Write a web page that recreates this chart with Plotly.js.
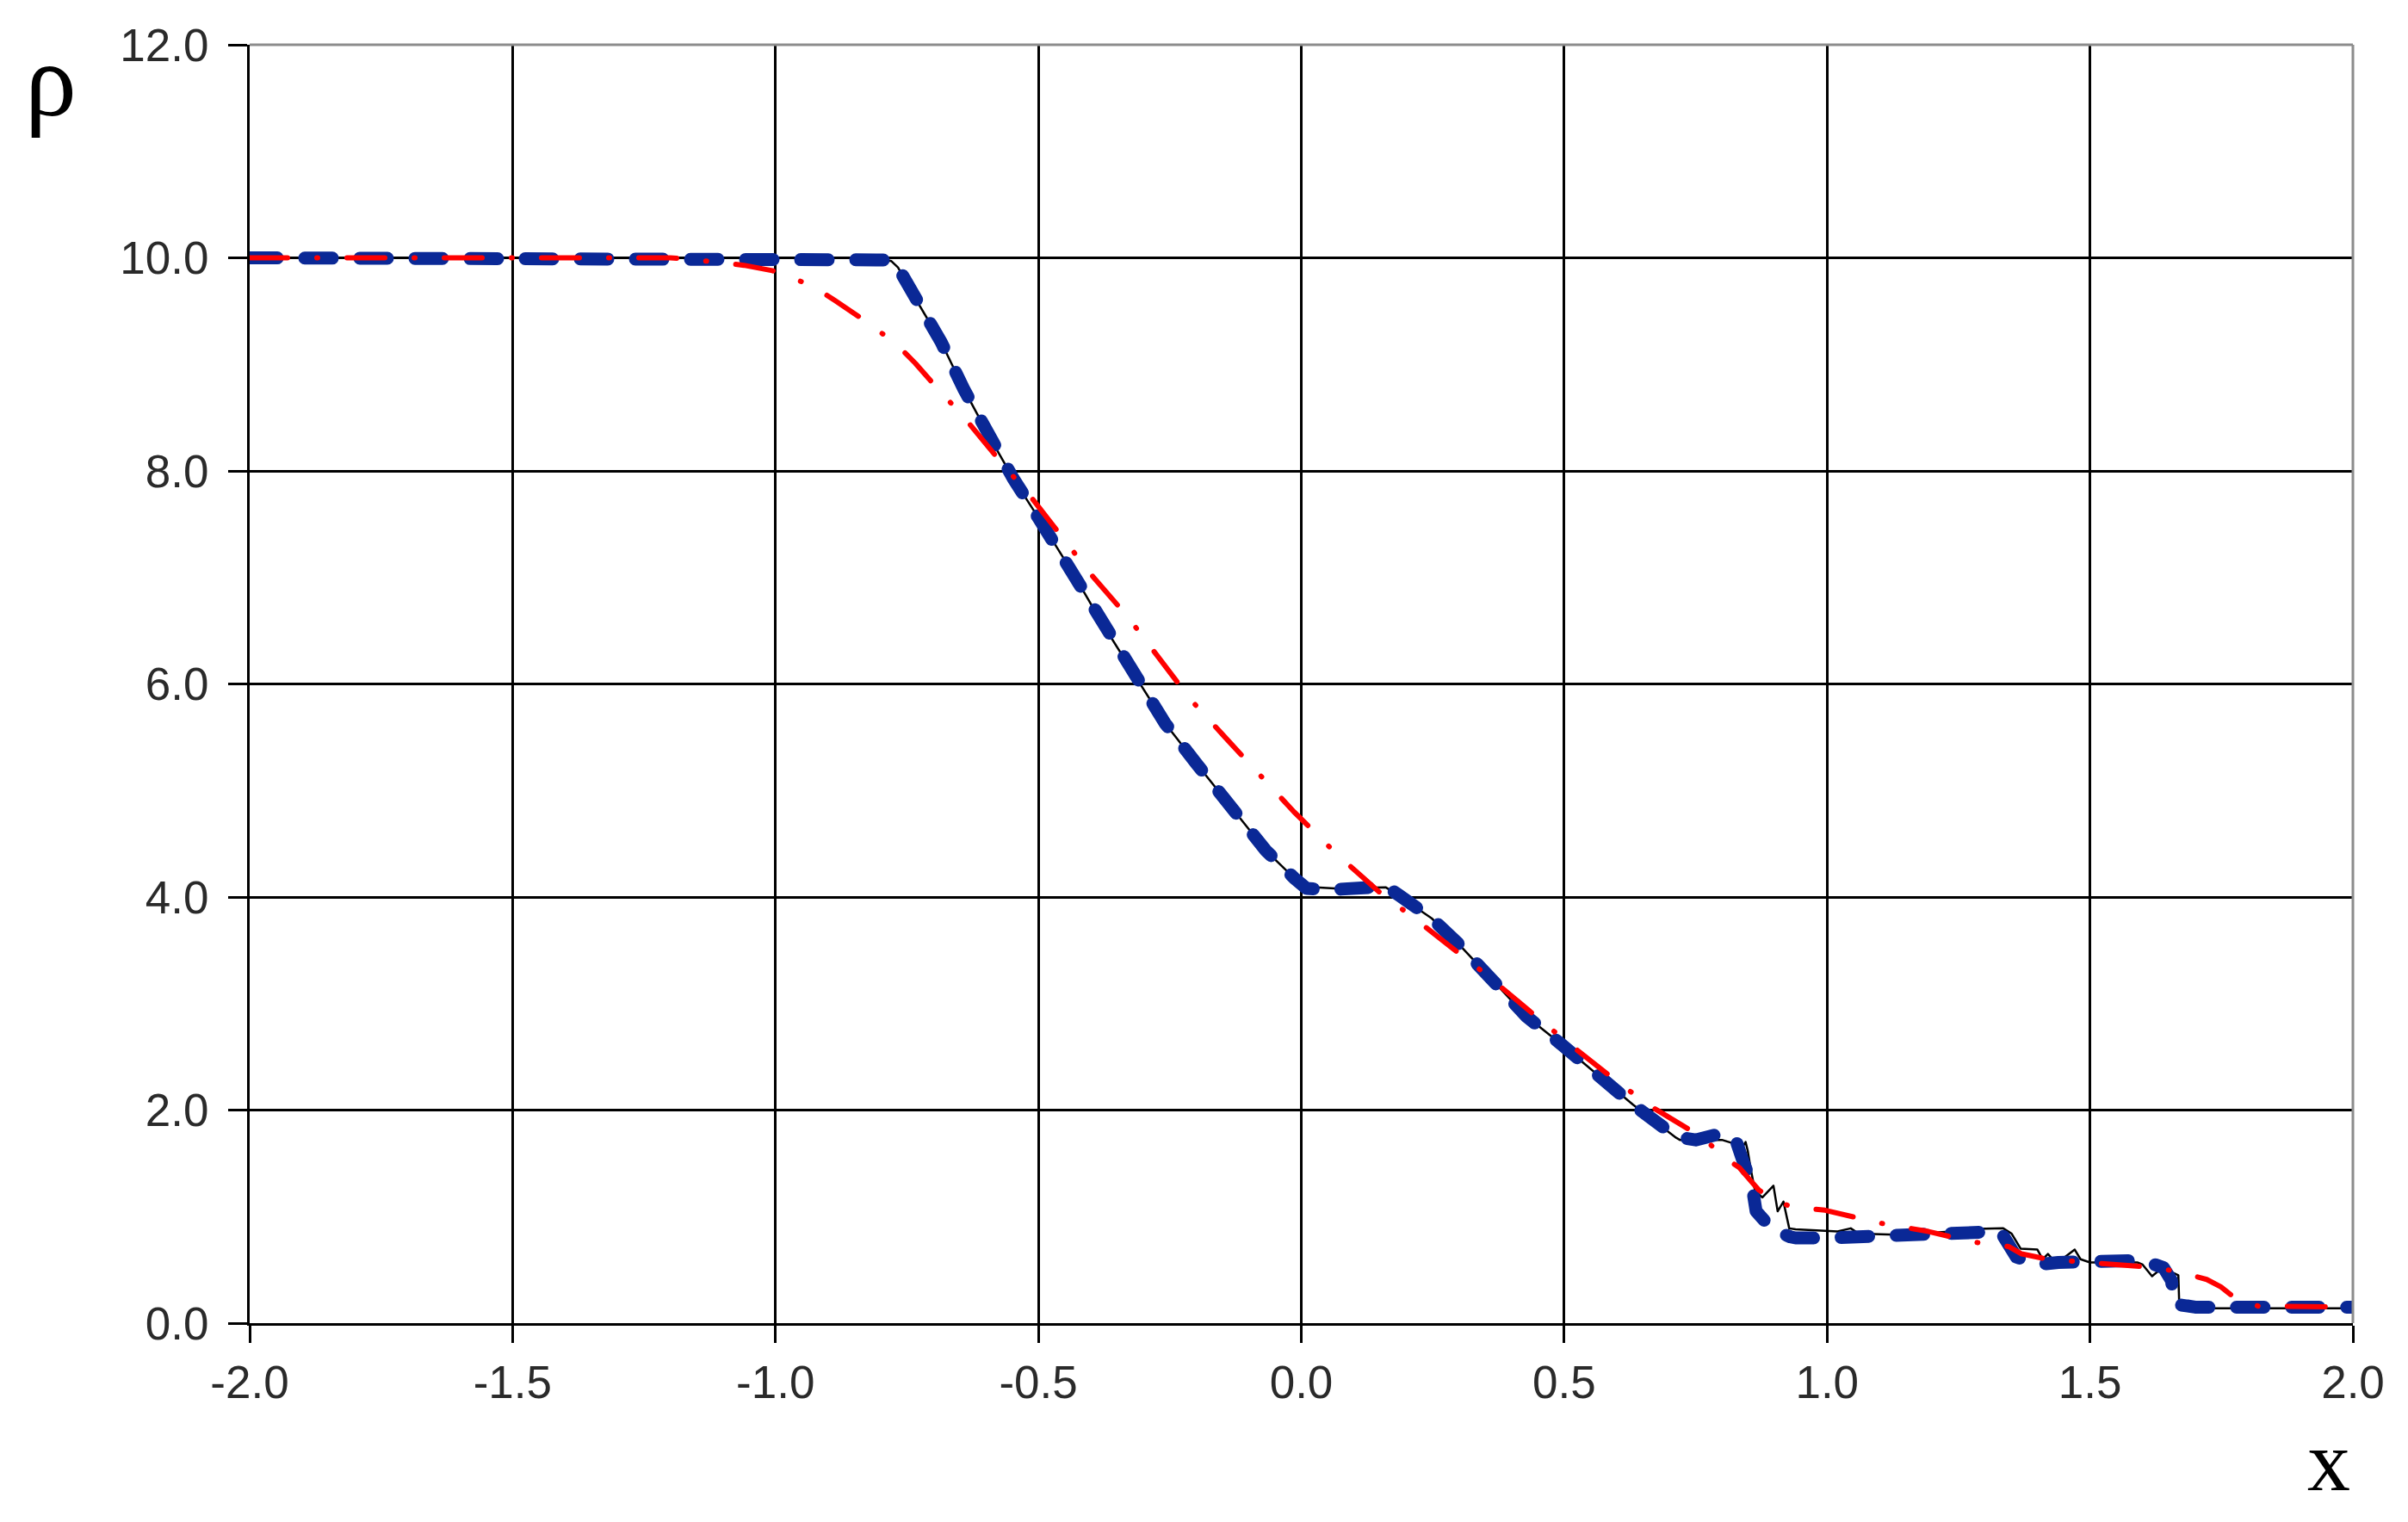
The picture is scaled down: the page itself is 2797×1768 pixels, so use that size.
<!DOCTYPE html>
<html>
<head>
<meta charset="utf-8">
<script src="https://cdn.plot.ly/plotly-3.0.1.min.js"></script>
<style>
  html, body { margin: 0; padding: 0; background: #fff; }
  #graph { width: 2797px; height: 1768px; }
  /* rounded dash ends like the original */
  #graph .js-line { stroke-linecap: round !important; stroke-linejoin: round !important; }
</style>
</head>
<body>
<div id="graph"></div>
<script>
// thin black reference curve
const blackX = [-2.0, -0.81, -0.78, -0.767, -0.734, -0.685, -0.641, -0.592, -0.548, -0.5, -0.433, -0.38, -0.314,
  -0.259, -0.199, -0.134, -0.068, -0.014, 0.002, 0.063, 0.161, 0.183, 0.248, 0.297, 0.386, 0.428, 0.494, 0.559,
  0.631, 0.713, 0.72, 0.8, 0.84, 0.845, 0.849, 0.855, 0.863, 0.877, 0.898, 0.906, 0.917, 0.928, 0.94, 1.02, 1.045,
  1.06, 1.13, 1.24, 1.247, 1.335, 1.351, 1.368, 1.4, 1.41, 1.42, 1.436, 1.471, 1.482, 1.5, 1.59, 1.6, 1.618, 1.64,
  1.655, 1.668, 1.67, 2.0];
const blackY = [10.0, 10.0, 9.97, 9.91, 9.62, 9.21, 8.76, 8.31, 7.93, 7.56, 7.03, 6.58, 6.06,
  5.63, 5.25, 4.85, 4.44, 4.18, 4.1, 4.08, 4.09, 4.02, 3.8, 3.57, 3.1, 2.88, 2.62, 2.35,
  2.05, 1.74, 1.72, 1.72, 1.66, 1.7, 1.62, 1.44, 1.24, 1.18, 1.29, 1.05, 1.14, 0.89, 0.88, 0.86, 0.89,
  0.84, 0.83, 0.86, 0.88, 0.89, 0.84, 0.7, 0.69, 0.6, 0.65, 0.56, 0.69, 0.6, 0.57, 0.57, 0.55, 0.44, 0.53,
  0.48, 0.45, 0.14, 0.14];

// thick blue dashed curve
const blueX = [-2.0, -0.81, -0.78, -0.767, -0.734, -0.685, -0.641, -0.592, -0.548, -0.5, -0.433, -0.38, -0.314,
  -0.259, -0.199, -0.134, -0.068, -0.014, 0.01, 0.063, 0.161, 0.185, 0.248, 0.297, 0.386, 0.428, 0.494, 0.559,
  0.631, 0.713, 0.75, 0.79, 0.825, 0.838, 0.857, 0.865, 0.896, 0.93, 0.94, 1.0, 1.05, 1.09, 1.15, 1.21, 1.24,
  1.33, 1.36, 1.4, 1.44, 1.5, 1.6, 1.64, 1.655, 1.66, 1.7, 2.0];
const blueY = [10.0, 10.0, 9.98, 9.91, 9.62, 9.21, 8.76, 8.31, 7.93, 7.56, 7.03, 6.58, 6.06,
  5.63, 5.25, 4.85, 4.44, 4.18, 4.08, 4.07, 4.1, 4.02, 3.8, 3.57, 3.1, 2.88, 2.62, 2.35,
  2.05, 1.75, 1.72, 1.77, 1.74, 1.55, 1.3, 1.05, 0.88, 0.81, 0.8, 0.8, 0.81, 0.81, 0.83, 0.83, 0.85,
  0.86, 0.62, 0.55, 0.57, 0.58, 0.59, 0.52, 0.4, 0.18, 0.15, 0.15];

// red dash-dot curve
const redX = [-2.0, -1.2, -1.15, -1.06, -1.006, -0.931, -0.887, -0.842, -0.772, -0.734, -0.702, -0.641, -0.564,
  -0.515, -0.482, -0.395, -0.33, -0.27, -0.21, -0.145, -0.079, -0.014, 0.068, 0.107, 0.15, 0.215, 0.297, 0.347,
  0.451, 0.505, 0.61, 0.67, 0.767, 0.8, 0.833, 0.87, 0.909, 0.936, 0.996, 1.05, 1.1, 1.193, 1.28, 1.345, 1.37,
  1.42, 1.5, 1.56, 1.6, 1.663, 1.722, 1.749, 1.78, 1.82, 2.0];
const redY = [10.0, 10.0, 9.98, 9.93, 9.88, 9.74, 9.6, 9.45, 9.2, 9.01, 8.83, 8.5, 8.04,
  7.76, 7.55, 7.0, 6.63, 6.24, 5.85, 5.5, 5.15, 4.8, 4.4, 4.23, 4.04, 3.8, 3.48, 3.29,
  2.86, 2.64, 2.23, 2.02, 1.73, 1.57, 1.46, 1.25, 1.13, 1.09, 1.06, 1.0, 0.94, 0.86, 0.76, 0.72, 0.65,
  0.6, 0.57, 0.55, 0.53, 0.49, 0.41, 0.34, 0.22, 0.16, 0.15];

const xTicks = [-2.0, -1.5, -1.0, -0.5, 0.0, 0.5, 1.0, 1.5, 2.0];
const xTickText = ["-2.0", "-1.5", "-1.0", "-0.5", "0.0", "0.5", "1.0", "1.5", "2.0"];
const yTicks = [0, 2, 4, 6, 8, 10, 12];
const yTickText = ["0.0", "2.0", "4.0", "6.0", "8.0", "10.0", "12.0"];

const tickFont = { family: "Liberation Sans, Arial, sans-serif", size: 53, color: "#2a2a2a" };
const serif = "Liberation Serif, Times New Roman, serif";

const traces = [
  {
    x: blackX, y: blackY, mode: "lines",
    line: { color: "#000000", width: 2.5 },
  },
  {
    x: blueX, y: blueY, mode: "lines",
    line: { color: "#0a2896", width: 15, dash: "32px,32px" },
  },
  {
    x: redX, y: redY, mode: "lines",
    line: { color: "#ff0000", width: 6, dash: "44px,34px,1px,34px" },
  },
];

const layout = {
  width: 2797,
  height: 1768,
  margin: { l: 290, r: 64, t: 52, b: 231 },
  paper_bgcolor: "#ffffff",
  plot_bgcolor: "#ffffff",
  showlegend: false,
  xaxis: {
    range: [-2, 2],
    tickvals: xTicks,
    ticktext: xTickText,
    tickfont: tickFont,
    ticks: "outside",
    ticklen: 20,
    tickwidth: 3,
    tickcolor: "#000",
    showgrid: true,
    gridcolor: "#000",
    gridwidth: 3,
    zeroline: false,
    showline: true,
    linecolor: "#000",
    linewidth: 3,
  },
  yaxis: {
    range: [0, 12],
    tickvals: yTicks,
    ticktext: yTickText,
    tickfont: tickFont,
    ticks: "outside",
    ticklen: 22,
    tickwidth: 3,
    tickcolor: "#000",
    ticklabelstandoff: 12,
    showgrid: true,
    gridcolor: "#000",
    gridwidth: 3,
    zeroline: false,
    showline: true,
    linecolor: "#000",
    linewidth: 3,
  },
  shapes: [
    // grey frame on top and right
    { type: "line", xref: "paper", yref: "paper", x0: 0, x1: 1, y0: 1, y1: 1,
      line: { color: "#8c8c8c", width: 3 } },
    { type: "line", xref: "paper", yref: "paper", x0: 1, x1: 1, y0: 0, y1: 1,
      line: { color: "#8c8c8c", width: 3 } },
  ],
  annotations: [
    {
      text: "ρ", xref: "paper", yref: "paper", x: -0.0945, y: 0.972,
      xanchor: "center", yanchor: "middle", showarrow: false,
      font: { family: serif, size: 120, color: "#000" },
    },
    {
      text: "x", xref: "paper", yref: "paper", x: 0.9885, y: -0.108,
      xanchor: "center", yanchor: "middle", showarrow: false,
      font: { family: serif, size: 100, color: "#000" },
    },
  ],
};

Plotly.newPlot("graph", traces, layout, { displayModeBar: false, staticPlot: true });
</script>
</body>
</html>
